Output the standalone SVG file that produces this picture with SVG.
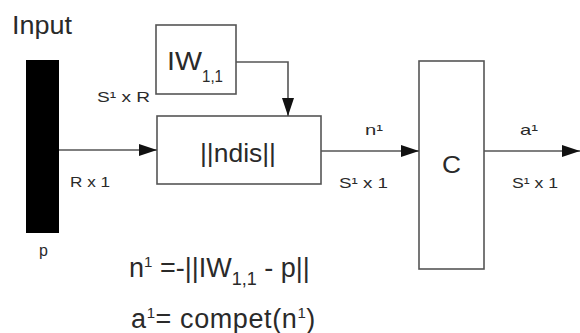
<svg xmlns="http://www.w3.org/2000/svg" width="580" height="333" viewBox="0 0 580 333">
<defs>
<style>
.box{fill:#fff;stroke:#555;stroke-width:1.6}
.wire{fill:none;stroke:#555;stroke-width:1.6}
text{font-family:"Liberation Sans",Arial,sans-serif;fill:#2a2a2a}
.lbl{font-size:15px}
.big{font-size:25px}
.eq{font-size:27px}
</style>
<marker id="arr" markerUnits="userSpaceOnUse" markerWidth="18" markerHeight="14" refX="18" refY="7" orient="auto">
<polygon points="0,1 18,7 0,13" fill="#111"/>
</marker>
</defs>
<rect width="580" height="333" fill="#fff"/>
<g id="input">
<text class="big" x="12" y="34" textLength="60" lengthAdjust="spacingAndGlyphs">Input</text>
<rect x="26" y="60" width="33" height="173" fill="#000"/>
<text x="39" y="256" font-size="16">p</text>
<text class="lbl" x="70" y="187" textLength="40" lengthAdjust="spacingAndGlyphs">R x 1</text>
</g>
<g id="iw">
<rect class="box" x="156" y="25" width="80" height="69"/>
<text x="167" y="70" font-size="25" textLength="35" lengthAdjust="spacingAndGlyphs">IW</text>
<text x="202" y="82" font-size="17" textLength="21" lengthAdjust="spacingAndGlyphs">1,1</text>
<text class="lbl" x="97" y="102" textLength="53" lengthAdjust="spacingAndGlyphs">S¹ x R</text>
</g>
<g id="ndis">
<rect class="box" x="157" y="116" width="164" height="68"/>
<text class="big" x="200" y="162" textLength="76" lengthAdjust="spacingAndGlyphs">||ndis||</text>
</g>
<g id="c">
<rect class="box" x="419" y="61" width="65" height="208"/>
<text x="442" y="173" font-size="23" textLength="19" lengthAdjust="spacingAndGlyphs">C</text>
</g>
<g id="connectors">
<line class="wire" x1="59" y1="150" x2="157" y2="150" marker-end="url(#arr)"/>
<polyline class="wire" points="236,62 288,62 288,116" marker-end="url(#arr)"/>
<line class="wire" x1="321" y1="151" x2="419" y2="151" marker-end="url(#arr)"/>
<line class="wire" x1="484" y1="151" x2="580" y2="151" marker-end="url(#arr)"/>
</g>
<g id="labels">
<text class="lbl" x="365" y="135" textLength="18" lengthAdjust="spacingAndGlyphs">n¹</text>
<text class="lbl" x="339" y="188" textLength="49" lengthAdjust="spacingAndGlyphs">S¹ x 1</text>
<text class="lbl" x="520" y="135" textLength="18" lengthAdjust="spacingAndGlyphs">a¹</text>
<text class="lbl" x="512" y="188" textLength="46" lengthAdjust="spacingAndGlyphs">S¹ x 1</text>
</g>
<g id="equations">
<text class="eq" x="129" y="277">n<tspan font-size="15" dy="-10">1</tspan><tspan dy="10"> =-||IW</tspan><tspan font-size="18" dy="8">1,1</tspan><tspan dy="-8"> - p||</tspan></text>
<text class="eq" x="131" y="328" letter-spacing="0.6">a<tspan font-size="15" dy="-10">1</tspan><tspan dy="10">= compet(n</tspan><tspan font-size="15" dy="-10">1</tspan><tspan dy="10">)</tspan></text>
</g>
</svg>
